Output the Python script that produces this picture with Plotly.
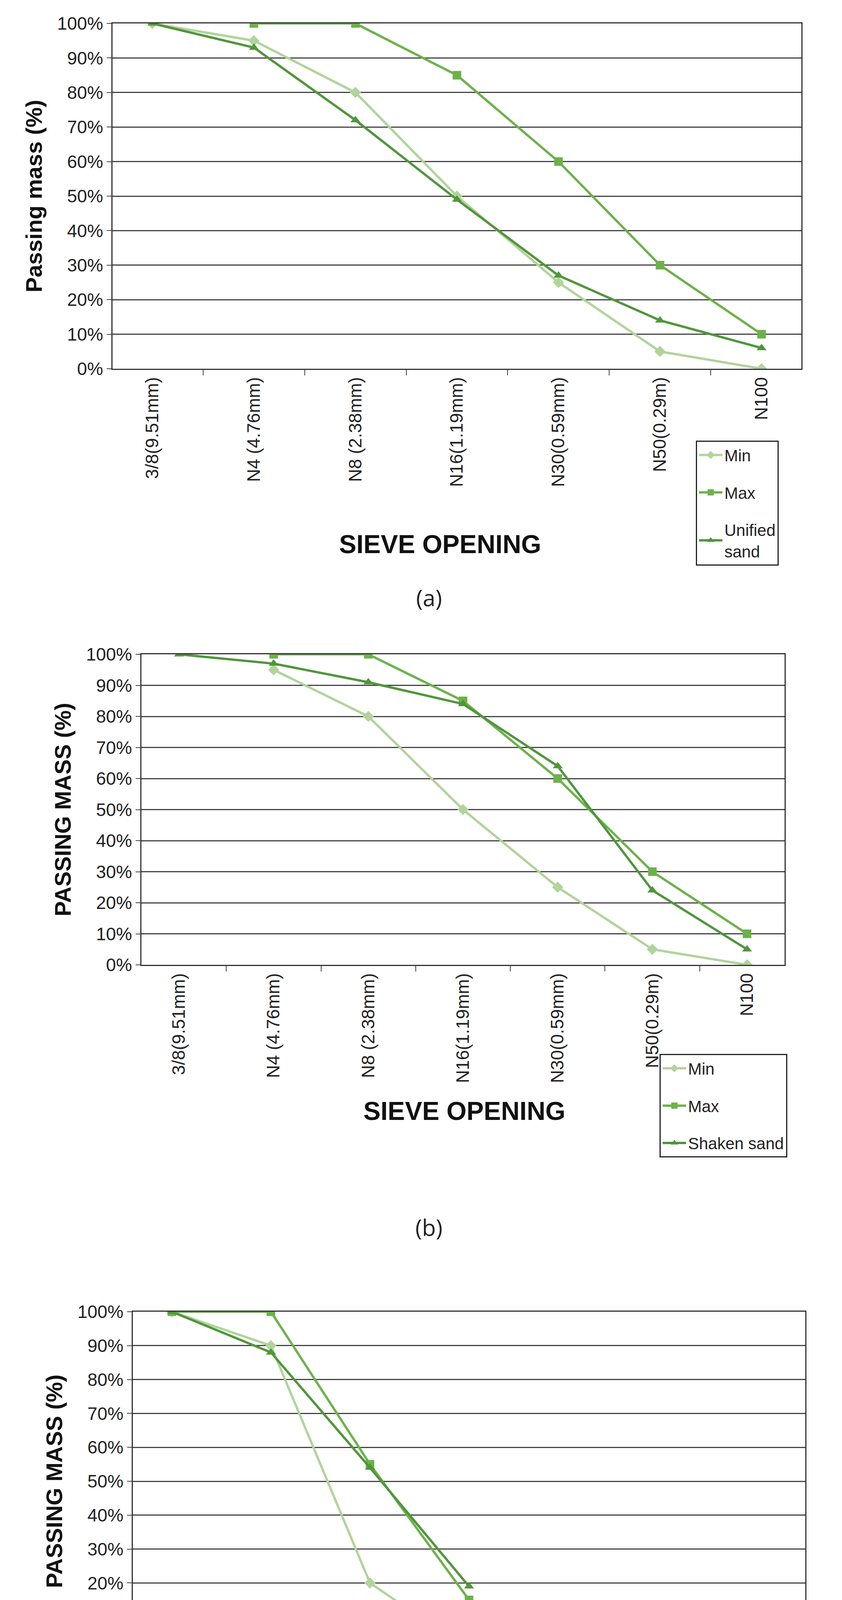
import plotly.graph_objects as go

cats_a = ["3/8(9.51mm)", "N4 (4.76mm)", "N8 (2.38mm)", "N16(1.19mm)", "N30(0.59mm)", "N50(0.29m)", "N100"]
min_a = [100, 95, 80, 50, 25, 5, 0]
max_a = [None, 100, 100, 85, 60, 30, 10]
uni_a = [100, 93, 72, 49, 27, 14, 6]

cats_b = cats_a
min_b = [None, 95, 80, 50, 25, 5, 0]
max_b = [None, 100, 100, 85, 60, 30, 10]
shk_b = [100, 97, 91, 84, 64, 24, 5]

cats_c = ["1in(25mm)", "3/4in(19mm)", "3/8in(12.5mm)", "No.4(9.5mm)", "No.8(4.75mm)", "No.16(2.36)", " "]
min_c = [100, 90, 20, 0, None, None, None]
max_c = [100, 100, 55, 15, 0, 0, 0]
n67_c = [100, 88, 54, 19, None, None, None]

C_MIN, C_MAX, C_SER = "#b0d49a", "#6cb24a", "#4f963a"
W, H = 2155.0, 4790.0
def py(y): return 1 - y / H
def px(x): return x / W

# (cats, min, max, series, name, ytitle, plot x0,x1, plot y0,y1, legend x,y, xtitle x,y, label x,y, label)
panels = [
    (cats_a, min_a, max_a, uni_a, "Unified<br>sand", "Passing mass (%)", (280, 2043), (52, 936), (1773, 1120), (1118, 1346), (1090, 1480), "(a)"),
    (cats_b, min_b, max_b, shk_b, "Shaken sand", "PASSING MASS (%)", (354, 2000), (1667, 2462), (1680, 2690), (1180, 2836), (1090, 3133), "(b)"),
    (cats_c, min_c, max_c, n67_c, "No.67", "PASSING MASS (%)", (332, 2053), (3350, 4218), (1770, 4393), (1264, 4618), (1090, 4761), "(c)"),
]

fig = go.Figure()
narrow = "Liberation Sans Narrow, Liberation Sans, Arial"
annotations = []
for i, (cats, mn, mx, sr, sname, ytitle, (x0, x1), (yt, yb), (lx, ly), (tx, ty), (ax, ay), lab) in enumerate(panels):
    k = "" if i == 0 else str(i + 1)
    leg = "legend" + k
    for j, (name, vals, col, sym) in enumerate([("Min", mn, C_MIN, "diamond"), ("Max", mx, C_MAX, "square"), (sname, sr, C_SER, "triangle-up")]):
        fig.add_trace(go.Scatter(x=cats, y=vals, name=name, mode="lines+markers",
                                 line=dict(color=col, width=6), marker=dict(symbol=sym, size=22, color=col),
                                 xaxis="x" + k, yaxis="y" + k, legend=leg, legendgroup=f"g{i}{j}",
                                 connectgaps=False))
    fig.update_layout(**{
        "xaxis" + k: dict(domain=[px(x0), px(x1)], anchor="y" + k, type="category",
                          categoryorder="array", categoryarray=cats, tickangle=-90,
                          tickson="boundaries", ticks="outside", ticklen=14, tickwidth=2,
                          showline=True, linecolor="#333", linewidth=3, mirror=True,
                          showgrid=False, automargin=False,
                          tickfont=dict(size=46, family="Liberation Sans", color="#222")),
        "yaxis" + k: dict(domain=[py(yb), py(yt)], anchor="x" + k, range=[0, 100], dtick=10, ticksuffix="%",
                          ticks="outside", ticklen=12, tickwidth=2, showline=True, linecolor="#333",
                          linewidth=3, mirror=True, gridcolor="#444", gridwidth=3, automargin=False,
                          title=dict(text="<b>" + ytitle + "</b>", font=dict(size=58, family="Liberation Sans", color="#111"), standoff=20),
                          tickfont=dict(size=46, family=narrow, color="#222")),
        leg: dict(x=px(lx), y=py(ly), xanchor="left", yanchor="top", bordercolor="#222", borderwidth=3,
                  bgcolor="white", font=dict(size=42, family=narrow, color="#222"), tracegroupgap=38,
                  itemwidth=60),
    })
    annotations.append(dict(text="<b>SIEVE OPENING</b>", x=px(tx), y=py(ty), xref="paper", yref="paper",
                            showarrow=False, font=dict(size=66, family=narrow, color="#111")))
    annotations.append(dict(text=lab, x=px(ax), y=py(ay), xref="paper", yref="paper",
                            showarrow=False, font=dict(size=58, family="Open Sans", color="#222")))

fig.update_layout(width=2155, height=4790, margin=dict(l=0, r=0, t=0, b=0),
                  paper_bgcolor="white", plot_bgcolor="white", annotations=annotations)
fig.write_html("out.html")
